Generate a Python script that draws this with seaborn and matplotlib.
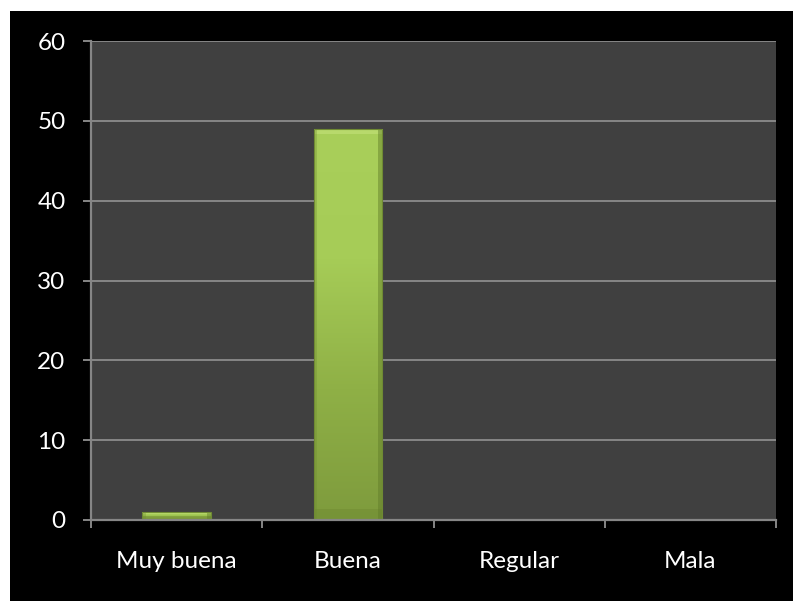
import numpy as np
import pandas as pd
import matplotlib
matplotlib.use("Agg")
import matplotlib.pyplot as plt
import seaborn as sns
from matplotlib.patches import Rectangle
from matplotlib.colors import LinearSegmentedColormap

categories = ["Muy buena", "Buena", "Regular", "Mala"]
values = [1, 49, 0, 0]
y_ticks = [0, 10, 20, 30, 40, 50, 60]

sns.set_theme(style="dark")
plt.rcParams["font.family"] = ["Lato", "DejaVu Sans"]

W, H = 793, 601
fig = plt.figure(figsize=(W / 100, H / 100), dpi=100, facecolor="white")
# black chart background (leaves a thin white margin on top and left)
fig.patches.append(Rectangle((10 / W, 0), 1 - 10 / W, 1 - 11 / H,
                             transform=fig.transFigure, facecolor="black",
                             edgecolor="none", zorder=-10))

ax = fig.add_axes([91 / W, (H - 520) / H, (776 - 91) / W, (520 - 41) / H])
ax.set_facecolor("#404040")

df = pd.DataFrame({"cat": categories, "val": values})
sns.barplot(data=df, x="cat", y="val", ax=ax, width=0.40,
            color="#9cc24e", saturation=1, zorder=3)

# vertical green gradient with a soft bevel inside each bar
cmap = LinearSegmentedColormap.from_list(
    "g", ["#7e9b3d", "#8fb046", "#a6cc57", "#a9cf5a"])
for p in list(ax.patches):
    x0, y0 = p.get_x(), p.get_y()
    w, h = p.get_width(), p.get_height()
    if h <= 0:
        p.set_visible(False)
        continue
    grad = np.linspace(0, 1, 256).reshape(-1, 1)
    im = ax.imshow(grad, extent=[x0, x0 + w, y0, y0 + h], origin="lower",
                   cmap=cmap, aspect="auto", zorder=3.5)
    im.set_clip_path(p)
    p.set_facecolor("none")
    p.set_edgecolor("#6f8a33")
    p.set_linewidth(0.8)
    p.set_zorder(4)
    # bevel: lighter top strip, darker bottom and sides
    bev = min(0.6, h * 0.25)
    ax.add_patch(Rectangle((x0, y0 + h - bev), w, bev, facecolor="#c4e27a",
                           edgecolor="none", alpha=0.6, zorder=3.6))
    ax.add_patch(Rectangle((x0, y0), w, bev * 2.2, facecolor="#6e8a30",
                           edgecolor="none", alpha=0.45, zorder=3.6))
    ax.add_patch(Rectangle((x0 + w * 0.94, y0), w * 0.06, h, facecolor="#5f7a28",
                           edgecolor="none", alpha=0.45, zorder=3.6))
    ax.add_patch(Rectangle((x0, y0), w * 0.05, h, facecolor="#6e8a30",
                           edgecolor="none", alpha=0.3, zorder=3.6))

ax.set_xlim(-0.5, len(categories) - 0.5)
ax.set_ylim(0, 60)
ax.set_yticks(y_ticks)
ax.set_yticklabels([str(t) for t in y_ticks])
ax.set_xlabel("")
ax.set_ylabel("")

grid_c = "#868686"
ax.grid(False)
for t in y_ticks[1:]:
    ax.axhline(t, color=grid_c, lw=1.4, zorder=1)

for s in ["top", "right"]:
    ax.spines[s].set_visible(False)
for s in ["left", "bottom"]:
    ax.spines[s].set_visible(True)
    ax.spines[s].set_color(grid_c)
    ax.spines[s].set_linewidth(1.6)
    ax.spines[s].set_zorder(5)

ax.tick_params(axis="y", which="major", length=5.8, width=1.4, color=grid_c,
               direction="out", left=True, pad=12.5, labelsize=17.5,
               labelcolor="white")
ax.set_xticks(np.arange(-0.5, len(categories)), minor=True)
ax.tick_params(axis="x", which="minor", length=6, width=1.4, color=grid_c,
               direction="out", bottom=True)
ax.tick_params(axis="x", which="major", length=0, pad=22, labelsize=17.5,
               labelcolor="white")

fig.savefig("out.png", dpi=100, facecolor="white")
